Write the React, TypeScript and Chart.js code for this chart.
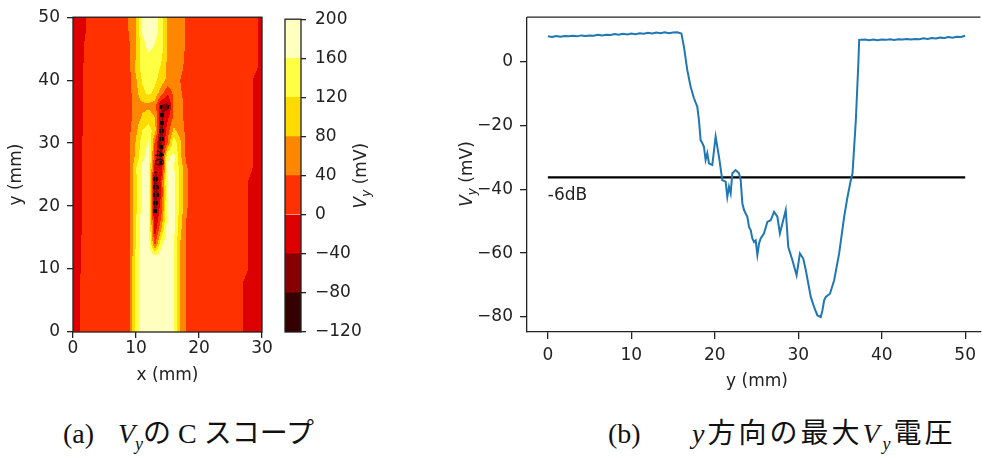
import React, { useEffect, useRef } from 'react';
import { Chart, registerables } from 'chart.js';
Chart.register(...registerables);

const FONT = "'DejaVu Sans', sans-serif";
const TEXT = '#222';
const TICK_FONT = { family: FONT, size: 17 };

// ---------- (a) C-scope contour map data ----------
const mapX = [0, 1, 2, 3, 4, 5, 6, 7, 8, 9, 10, 11, 12, 13, 14, 15, 16, 17, 18, 19, 20, 21, 22, 23, 24, 25, 26, 27, 28, 29, 30];
const mapY = [50, 48, 46, 44, 42, 40, 38, 36, 34, 32, 30, 28, 26, 24, 22, 20, 18, 16, 14, 12, 10, 8, 6, 4, 2, 0];
// Vy (mV); one row per mapY entry, one column per mapX entry
const vyMap: number[][] = [
  [-30, -20, -2, 20, 20, 20, 20, 20, 20, 45, 75, 170, 190, 175, 145, 70, 60, 55, 35, 20, 20, 20, 20, 20, 20, 20, 20, 20, 20, 7, -15],
  [-30, -20, -2, 20, 20, 20, 20, 20, 20, 45, 75, 165, 190, 175, 145, 70, 60, 55, 35, 20, 20, 20, 20, 20, 20, 20, 20, 20, 20, 7, -15],
  [-30, -20, 5, 20, 20, 20, 20, 20, 20, 40, 75, 150, 175, 160, 140, 75, 60, 55, 35, 20, 20, 20, 20, 20, 20, 20, 20, 20, 20, 7, -15],
  [-30, -20, 5, 20, 20, 20, 20, 20, 20, 35, 80, 145, 155, 150, 130, 75, 60, 50, 35, 20, 20, 20, 20, 20, 20, 20, 20, 20, 20, 7, -15],
  [-30, -15, 10, 20, 20, 20, 20, 20, 20, 35, 90, 140, 145, 140, 115, 70, 60, 50, 30, 20, 20, 20, 20, 20, 20, 20, 20, 20, 20, 7, -15],
  [-30, -15, 10, 20, 20, 20, 20, 20, 20, 30, 75, 125, 140, 130, 100, 70, 60, 40, 25, 20, 20, 20, 20, 20, 20, 20, 20, 20, 10, -10, -20],
  [-30, -15, 10, 20, 20, 20, 20, 20, 20, 30, 65, 110, 130, 110, 60, 10, 50, 45, 25, 20, 20, 20, 20, 20, 20, 20, 20, 20, 10, -10, -20],
  [-30, -15, 10, 20, 20, 20, 20, 20, 20, 30, 60, 70, 70, 60, -40, -60, 45, 55, 25, 20, 20, 20, 20, 20, 20, 20, 20, 20, 10, -10, -20],
  [-30, -15, 10, 20, 20, 20, 20, 20, 20, 30, 60, 85, 100, 80, -50, -10, 50, 55, 25, 20, 20, 20, 20, 20, 20, 20, 20, 20, 10, -10, -20],
  [-30, -15, 10, 20, 20, 20, 20, 20, 20, 35, 70, 120, 140, 100, -60, 20, 90, 60, 30, 20, 20, 20, 20, 20, 20, 20, 20, 20, 10, -10, -20],
  [-30, -10, 15, 20, 20, 20, 20, 20, 20, 40, 85, 140, 165, 30, -60, 40, 150, 90, 30, 20, 20, 20, 20, 20, 20, 20, 20, 20, 10, -10, -20],
  [-30, -10, 15, 20, 20, 20, 20, 20, 20, 40, 90, 150, 175, 20, -50, 150, 170, 90, 30, 20, 20, 20, 20, 20, 20, 20, 20, 20, 10, -10, -20],
  [-30, -10, 15, 20, 20, 20, 20, 20, 20, 40, 120, 170, 175, -30, -40, 170, 165, 110, 45, 20, 20, 20, 20, 20, 20, 20, 20, 20, 10, -10, -20],
  [-30, -10, 15, 20, 20, 20, 20, 20, 20, 40, 110, 175, 170, -70, 10, 175, 170, 110, 45, 20, 20, 20, 20, 20, 20, 20, 20, 20, -4, -20, -20],
  [-30, -10, 15, 20, 20, 20, 20, 20, 20, 40, 110, 175, 170, -75, 0, 170, 170, 110, 45, 20, 20, 20, 20, 20, 20, 20, 20, 20, -4, -20, -20],
  [-30, -10, 15, 20, 20, 20, 20, 20, 20, 40, 115, 175, 170, -65, 20, 170, 170, 110, 45, 20, 20, 20, 20, 20, 20, 20, 20, 20, -4, -20, -20],
  [-30, -10, 15, 20, 20, 20, 20, 20, 20, 40, 115, 180, 175, -45, 40, 175, 170, 100, 40, 20, 20, 20, 20, 20, 20, 20, 20, 20, -4, -20, -20],
  [-30, -10, 15, 20, 20, 20, 20, 20, 20, 40, 120, 180, 180, -25, 90, 180, 170, 90, 40, 20, 20, 20, 20, 20, 20, 20, 20, 20, -4, -20, -20],
  [-30, -6, 20, 20, 20, 20, 20, 20, 20, 40, 125, 185, 185, 30, 150, 185, 165, 80, 35, 20, 20, 20, 20, 20, 20, 20, 20, 20, -4, -20, -20],
  [-30, -6, 20, 20, 20, 20, 20, 20, 20, 40, 130, 185, 190, 170, 185, 190, 160, 75, 35, 20, 20, 20, 20, 20, 20, 20, 20, 20, -4, -20, -20],
  [-30, -6, 20, 20, 20, 20, 20, 20, 20, 40, 130, 185, 190, 190, 190, 190, 160, 75, 35, 20, 20, 20, 20, 20, 20, 20, 20, 20, -4, -20, -20],
  [-30, -3, 20, 20, 20, 20, 20, 20, 20, 40, 130, 185, 190, 190, 190, 190, 160, 75, 35, 20, 20, 20, 20, 20, 20, 20, 20, 0, -20, -20, -20],
  [-30, -3, 20, 20, 20, 20, 20, 20, 20, 40, 130, 185, 190, 190, 190, 190, 160, 75, 35, 20, 20, 20, 20, 20, 20, 20, 20, 0, -20, -20, -20],
  [-30, -3, 20, 20, 20, 20, 20, 20, 20, 40, 130, 185, 190, 190, 190, 190, 160, 75, 35, 20, 20, 20, 20, 20, 20, 20, 20, 0, -20, -20, -20],
  [-30, -3, 20, 20, 20, 20, 20, 20, 20, 40, 130, 185, 190, 190, 190, 190, 160, 75, 35, 20, 20, 20, 20, 20, 20, 20, 20, 0, -20, -20, -20],
  [-30, -3, 20, 20, 20, 20, 20, 20, 20, 40, 130, 185, 190, 190, 190, 190, 160, 75, 35, 20, 20, 20, 20, 20, 20, 20, 20, 0, -20, -20, -20],
];
const levels = [-120, -80, -40, 0, 40, 80, 120, 160, 200];
const levelColors = ['#350000', '#880000', '#dc0000', '#ff3100', '#ff8600', '#ffdb00', '#ffff43', '#ffffc0'];
const lineLevel = -40;
const lineLabel = '\u221240';
const lineLabelAt = [13.6, 28.5];
const mapXTicks = [0, 10, 20, 30];
const mapYTicks = [0, 10, 20, 30, 40, 50];
const cbTicks = [-120, -80, -40, 0, 40, 80, 120, 160, 200];

// ---------- (b) max Vy along y ----------
const profileY = [
  0, 0.5, 1, 1.5, 2, 2.5, 3, 3.5, 4, 4.5, 5, 5.5, 6, 6.5, 7, 7.5, 8, 8.5, 9, 9.5, 10, 10.5, 11, 11.5, 12, 12.5, 13, 13.5, 14, 14.5, 15, 15.5, 16,
  16.3, 16.7, 17.1, 17.5, 17.9, 18.1, 18.3, 18.5, 18.7, 18.9, 19.1, 19.3, 19.7, 20.1, 20.5, 20.9, 21.3, 21.5, 21.7, 21.9, 22.1, 22.5, 22.9,
  23.1, 23.3, 23.5, 23.7, 23.9, 24.1, 24.3, 24.5, 24.7, 24.9, 25.1, 25.3, 25.5, 25.9, 26.3, 26.7, 27.1, 27.5, 27.8, 28.1, 28.5, 28.8, 29.3,
  29.8, 30.2, 30.6, 30.9, 31.5, 31.9, 32.3, 32.7, 32.9, 33.1, 33.3, 33.8, 34.3, 34.9, 35.5, 35.9, 36.3, 36.5, 36.9, 37.2, 37.3,
  38, 38.5, 39, 39.5, 40, 40.5, 41, 41.5, 42, 42.5, 43, 43.5, 44, 44.5, 45, 45.5, 46, 46.5, 47, 47.5, 48, 48.5, 49, 49.5, 50,
];
const profileVy = [
  7.9, 7.7, 8.0, 7.8, 8.0, 7.9, 8.1, 7.9, 8.2, 8.0, 8.2, 8.1, 8.4, 8.2, 8.4, 8.3, 8.6, 8.4, 8.7, 8.5, 8.8, 8.6, 8.9, 8.7, 9.0, 8.8, 9.1, 8.9, 9.2, 8.9, 9.1, 9.2, 8.8,
  4.7, -2.6, -7.8, -11.5, -14.1, -18.3, -24.6, -25.5, -26.7, -30.8, -28.7, -31.9, -32.4, -23.5, -29.8, -37.1, -37.6, -42.4, -39.2, -41.3, -35, -34, -35,
  -37.1, -44.4, -46.5, -47.6, -48.6, -51.8, -52.8, -55.4, -56.5, -56, -60.6, -57, -55.4, -53.8, -50.2, -49.7, -47.1, -48.6, -53.8, -50.7, -46.5, -58, -62.2,
  -66.9, -60.1, -61.7, -65.3, -73.7, -76.9, -79.5, -80, -77.9, -74.8, -73.7, -72.7, -68.5, -60.1, -48.6, -42.4, -37.1, -35, -18.3, -0.5, 6.8,
  6.9, 6.7, 6.9, 6.7, 6.9, 6.8, 7.0, 6.8, 7.0, 6.9, 7.1, 6.9, 7.1, 7.0, 7.3, 7.1, 7.4, 7.2, 7.5, 7.4, 7.7, 7.5, 7.8, 7.7, 8.1,
];
const dbLevel = -36.3;
const dbSpan = [0, 50];
const dbLabel = '-6dB';
const profXTicks = [0, 10, 20, 30, 40, 50];
const profYTicks = [-80, -60, -40, -20, 0];

const fmt = (v: number) => String(v).replace('-', '\u2212');

function sampleMap(x: number, y: number): number {
  const nx = mapX.length, ny = mapY.length;
  const fx = Math.max(mapX[0], Math.min(mapX[nx - 1], x));
  let i = 0;
  while (i < nx - 2 && mapX[i + 1] < fx) i++;
  const tx = (fx - mapX[i]) / (mapX[i + 1] - mapX[i]);
  const fy = Math.max(mapY[ny - 1], Math.min(mapY[0], y));
  let j = 0;
  while (j < ny - 2 && mapY[j + 1] > fy) j++;
  const ty = (mapY[j] - fy) / (mapY[j] - mapY[j + 1]);
  const a = vyMap[j][i], b = vyMap[j][i + 1], c = vyMap[j + 1][i], d = vyMap[j + 1][i + 1];
  return (a * (1 - tx) + b * tx) * (1 - ty) + (c * (1 - tx) + d * tx) * ty;
}

function hexRgb(h: string) {
  return [parseInt(h.slice(1, 3), 16), parseInt(h.slice(3, 5), 16), parseInt(h.slice(5, 7), 16)];
}

function drawVyTitle(ctx: CanvasRenderingContext2D, cx: number, cy: number) {
  ctx.save();
  ctx.translate(cx, cy);
  ctx.rotate(-Math.PI / 2);
  ctx.fillStyle = TEXT;
  ctx.textBaseline = 'alphabetic';
  ctx.textAlign = 'left';
  const f1 = `italic 17px ${FONT}`, f2 = `italic 12px ${FONT}`, f3 = `17px ${FONT}`;
  ctx.font = f1; const w1 = ctx.measureText('V').width;
  ctx.font = f2; const w2 = ctx.measureText('y').width;
  ctx.font = f3; const w3 = ctx.measureText(' (mV)').width;
  let x = -(w1 + w2 + w3) / 2;
  const base = 6;
  ctx.font = f1; ctx.fillText('V', x, base); x += w1;
  ctx.font = f2; ctx.fillText('y', x, base + 4); x += w2;
  ctx.font = f3; ctx.fillText(' (mV)', x, base);
  ctx.restore();
}

function drawText(ctx: CanvasRenderingContext2D, t: string, cx: number, cy: number, rot = 0) {
  ctx.save();
  ctx.translate(cx, cy);
  ctx.rotate(rot);
  ctx.font = `17px ${FONT}`;
  ctx.fillStyle = TEXT;
  ctx.textAlign = 'center';
  ctx.textBaseline = 'middle';
  ctx.fillText(t, 0, 0);
  ctx.restore();
}

const tickGrid = (len: number) => ({ display: true, drawOnChartArea: false, drawTicks: true, tickLength: len, color: TEXT, lineWidth: 1.3 });

export default function App() {
  const mapRef = useRef<HTMLCanvasElement>(null);
  const cbRef = useRef<HTMLCanvasElement>(null);
  const profRef = useRef<HTMLCanvasElement>(null);

  useEffect(() => {
    const contourPlugin = {
      id: 'contourMap',
      beforeDatasetsDraw(chart: any) {
        const { ctx, chartArea: a, scales } = chart;
        const xs = scales.x, ys = scales.y;
        const left = Math.round(a.left), top = Math.round(a.top);
        const w = Math.round(a.right) - left, h = Math.round(a.bottom) - top;
        const vals = new Float32Array(w * h);
        for (let j = 0; j < h; j++) {
          const yv = ys.getValueForPixel(top + j + 0.5);
          for (let i = 0; i < w; i++) {
            vals[j * w + i] = sampleMap(xs.getValueForPixel(left + i + 0.5), yv);
          }
        }
        const rgb = levelColors.map(hexRgb);
        const img = ctx.createImageData(w, h);
        for (let j = 0; j < h; j++) {
          for (let i = 0; i < w; i++) {
            const k = j * w + i;
            const v = vals[k];
            let li = 0;
            while (li < levelColors.length - 1 && v >= levels[li + 1]) li++;
            let c = rgb[li];
            const inside = v < lineLevel;
            let edge = false;
            if (i > 0 && (vals[k - 1] < lineLevel) !== inside) edge = true;
            if (i < w - 1 && (vals[k + 1] < lineLevel) !== inside) edge = true;
            if (j > 0 && (vals[k - w] < lineLevel) !== inside) edge = true;
            if (j < h - 1 && (vals[k + w] < lineLevel) !== inside) edge = true;
            if (edge && Math.floor(j / 4) % 2 === 0) c = [10, 0, 0];
            img.data[k * 4] = c[0];
            img.data[k * 4 + 1] = c[1];
            img.data[k * 4 + 2] = c[2];
            img.data[k * 4 + 3] = 255;
          }
        }
        const off = document.createElement('canvas');
        off.width = w; off.height = h;
        off.getContext('2d')!.putImageData(img, 0, 0);
        ctx.drawImage(off, left, top);
        // contour label
        ctx.save();
        ctx.translate(xs.getPixelForValue(lineLabelAt[0]), ys.getPixelForValue(lineLabelAt[1]));
        ctx.rotate(Math.PI / 2);
        ctx.font = `13px ${FONT}`;
        ctx.fillStyle = '#111';
        ctx.textAlign = 'center';
        ctx.textBaseline = 'middle';
        ctx.fillText(lineLabel, 0, 0);
        ctx.restore();
        // frame
        ctx.save();
        ctx.strokeStyle = TEXT;
        ctx.lineWidth = 1.3;
        ctx.strokeRect(a.left, a.top, a.right - a.left, a.bottom - a.top);
        ctx.restore();
      },
      afterDraw(chart: any) {
        const { ctx, chartArea: a } = chart;
        drawText(ctx, 'x (mm)', (a.left + a.right) / 2, 376);
        drawText(ctx, 'y (mm)', 17, (a.top + a.bottom) / 2, -Math.PI / 2);
      },
    };

    const mapChart = new Chart(mapRef.current!, {
      type: 'scatter',
      data: { datasets: [{ data: [] }] },
      options: {
        animation: false,
        responsive: false,
        devicePixelRatio: 1,
        layout: { padding: { top: 17, right: 13, left: 0, bottom: 0 } },
        plugins: { legend: { display: false }, tooltip: { enabled: false } },
        scales: {
          x: {
            type: 'linear', min: 0, max: 30,
            afterBuildTicks: (s: any) => { s.ticks = mapXTicks.map((v) => ({ value: v })); },
            afterFit: (s: any) => { s.height = 68; },
            grid: tickGrid(6), border: { display: false },
            ticks: { font: TICK_FONT, color: TEXT, padding: 0, maxRotation: 0, callback: (v: any) => fmt(v) },
          },
          y: {
            type: 'linear', min: 0, max: 50,
            afterBuildTicks: (s: any) => { s.ticks = mapYTicks.map((v) => ({ value: v })); },
            afterFit: (s: any) => { s.width = 73; },
            grid: tickGrid(6), border: { display: false },
            ticks: { font: TICK_FONT, color: TEXT, padding: 7, callback: (v: any) => fmt(v) },
          },
        },
      },
      plugins: [contourPlugin],
    } as any);

    const cbPlugin = {
      id: 'cbFrame',
      afterDraw(chart: any) {
        const { ctx, chartArea: a } = chart;
        ctx.save();
        ctx.strokeStyle = TEXT;
        ctx.lineWidth = 1.3;
        ctx.strokeRect(a.left, a.top, a.right - a.left, a.bottom - a.top);
        ctx.restore();
        drawVyTitle(ctx, 90, (a.top + a.bottom) / 2);
      },
    };

    const cbChart = new Chart(cbRef.current!, {
      type: 'bar',
      data: {
        labels: [''],
        datasets: levelColors.map((c, i) => ({
          data: [[levels[i], levels[i + 1]]],
          backgroundColor: c,
          borderWidth: 0,
          barPercentage: 1,
          categoryPercentage: 1,
          grouped: false,
        })),
      },
      options: {
        animation: false,
        responsive: false,
        devicePixelRatio: 1,
        layout: { padding: { left: 15, top: 17, bottom: 68, right: 0 } },
        plugins: { legend: { display: false }, tooltip: { enabled: false } },
        scales: {
          x: { display: false },
          y: {
            position: 'right', min: -120, max: 200,
            afterBuildTicks: (s: any) => { s.ticks = cbTicks.map((v) => ({ value: v })); },
            afterFit: (s: any) => { s.width = 79; },
            grid: tickGrid(5), border: { display: false },
            ticks: { font: TICK_FONT, color: TEXT, padding: 9, callback: (v: any) => fmt(v) },
          },
        },
      },
      plugins: [cbPlugin],
    } as any);

    const profPlugin = {
      id: 'profExtras',
      afterDatasetsDraw(chart: any) {
        const { ctx, chartArea: a, scales } = chart;
        ctx.save();
        ctx.strokeStyle = TEXT;
        ctx.lineWidth = 1.3;
        ctx.beginPath();
        ctx.moveTo(a.left, a.top);
        ctx.lineTo(a.right, a.top);
        ctx.stroke();
        ctx.font = `17px ${FONT}`;
        ctx.fillStyle = TEXT;
        ctx.textAlign = 'left';
        ctx.textBaseline = 'alphabetic';
        ctx.fillText(dbLabel, scales.x.getPixelForValue(dbSpan[0]), scales.y.getPixelForValue(dbLevel - 7.1));
        ctx.restore();
      },
      afterDraw(chart: any) {
        const { ctx } = chart;
        drawText(ctx, 'y (mm)', 317, 382);
        drawVyTitle(ctx, 26, 174);
      },
    };

    const profChart = new Chart(profRef.current!, {
      type: 'line',
      data: {
        datasets: [
          {
            data: profileY.map((y, i) => ({ x: y, y: profileVy[i] })),
            borderColor: '#1f77b4', borderWidth: 2, pointRadius: 0, tension: 0, fill: false,
          },
          {
            data: dbSpan.map((x) => ({ x, y: dbLevel })),
            borderColor: '#000', borderWidth: 2.2, pointRadius: 0, fill: false,
          },
        ],
      },
      options: {
        animation: false,
        responsive: false,
        devicePixelRatio: 1,
        layout: { padding: { top: 17, right: 0, left: 0, bottom: 0 } },
        plugins: { legend: { display: false }, tooltip: { enabled: false } },
        scales: {
          x: {
            type: 'linear', min: -2.5, max: 51.83,
            afterBuildTicks: (s: any) => { s.ticks = profXTicks.map((v) => ({ value: v })); },
            afterFit: (s: any) => { s.height = 68; },
            grid: tickGrid(7), border: { display: true, color: TEXT, width: 1.3 },
            ticks: { font: TICK_FONT, color: TEXT, padding: 6, maxRotation: 0, callback: (v: any) => fmt(v) },
          },
          y: {
            type: 'linear', min: -84.7, max: 13.9,
            afterBuildTicks: (s: any) => { s.ticks = profYTicks.map((v) => ({ value: v })); },
            afterFit: (s: any) => { s.width = 87; },
            grid: tickGrid(7), border: { display: true, color: TEXT, width: 1.3 },
            ticks: { font: TICK_FONT, color: TEXT, padding: 7, callback: (v: any) => fmt(v) },
          },
        },
      },
      plugins: [profPlugin],
    } as any);

    return () => {
      mapChart.destroy();
      cbChart.destroy();
      profChart.destroy();
    };
  }, []);

  const capFont = "'Liberation Serif', 'Noto Sans CJK JP', serif";
  const capStyle: React.CSSProperties = { position: 'absolute', top: 418, fontFamily: capFont, fontSize: 28, lineHeight: '32px', whiteSpace: 'nowrap', color: '#111' };
  const sub: React.CSSProperties = { fontSize: 18, fontStyle: 'italic', position: 'relative', top: 7 };
  return (
    <div style={{ position: 'absolute', left: 0, top: 0, width: 982, height: 462, background: '#fff', overflow: 'hidden' }}>
      <canvas ref={mapRef} width={275} height={400} style={{ position: 'absolute', left: 0, top: 0 }} />
      <canvas ref={cbRef} width={110} height={400} style={{ position: 'absolute', left: 270, top: 0 }} />
      <canvas ref={profRef} width={542} height={400} style={{ position: 'absolute', left: 440, top: 0 }} />
      <div style={{ ...capStyle, left: 63 }}>(a)</div>
      <div style={{ ...capStyle, left: 118 }}>
        <i>V</i><span style={sub}>y</span>の C スコープ
      </div>
      <div style={{ ...capStyle, left: 608 }}>(b)</div>
      <div style={{ ...capStyle, left: 692, letterSpacing: 3 }}>
        <i>y</i>方向の最大<i>V</i><span style={sub}>y</span>電圧
      </div>
    </div>
  );
}
